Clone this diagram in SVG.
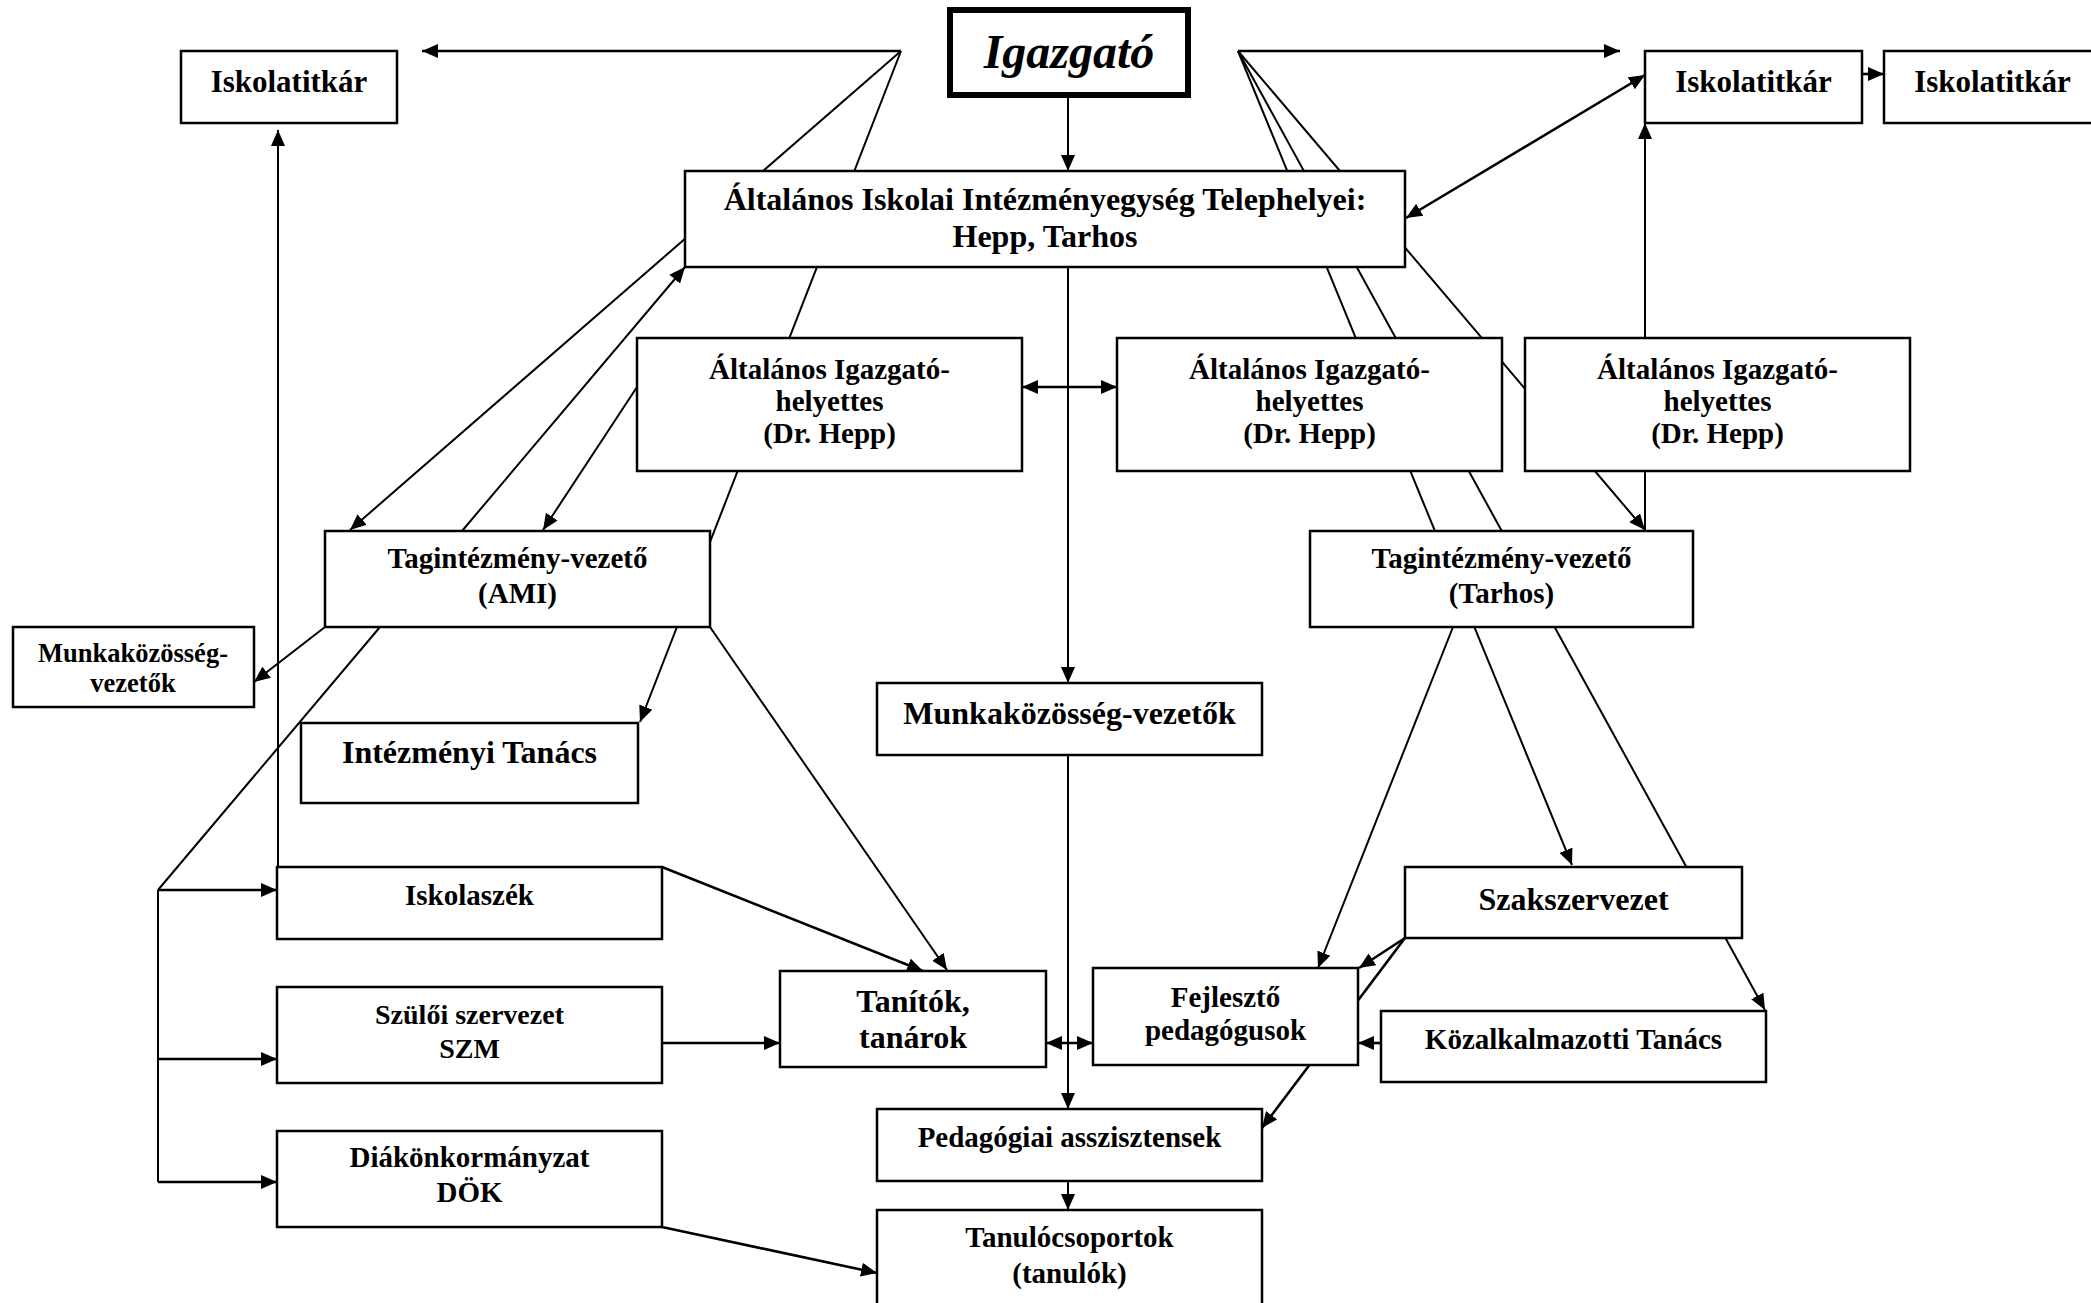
<svg xmlns="http://www.w3.org/2000/svg" width="2091" height="1303" viewBox="0 0 2091 1303">
<defs>
<style>
.box{fill:#fff;stroke:#000;stroke-width:2.5}
.t{font-family:"Liberation Serif","Times New Roman",serif;font-weight:bold;text-anchor:middle;fill:#000}
.s32{font-size:32px}
.s31{font-size:31px}
.s29{font-size:29px}
.s28{font-size:28px}
.s26{font-size:26.5px}
.c line,.c path{stroke:#000;stroke-width:2;fill:none}
.c .a{marker-end:url(#ah)}
.c .b{marker-start:url(#ahs);marker-end:url(#ah)}
.c .w{stroke-width:2.6}
</style>
<marker id="ah" markerUnits="userSpaceOnUse" markerWidth="16" markerHeight="14" viewBox="0 0 16 14" refX="16" refY="7" orient="auto"><path d="M0,0 L16,7 L0,14 z" fill="#000"/></marker>
<marker id="ahs" markerUnits="userSpaceOnUse" markerWidth="16" markerHeight="14" viewBox="0 0 16 14" refX="16" refY="7" orient="auto-start-reverse"><path d="M0,0 L16,7 L0,14 z" fill="#000"/></marker>
</defs>
<rect width="2091" height="1303" fill="#fff"/>
<g id="connectors" class="c">
<line class="a w" x1="901" y1="51" x2="422" y2="51"/>
<line class="a" x1="901" y1="51" x2="350" y2="530"/>
<line class="a" x1="901" y1="51" x2="640" y2="722"/>
<line class="a w" x1="1238" y1="51" x2="1620" y2="51"/>
<line class="a" x1="1238" y1="51" x2="1572" y2="865"/>
<line class="a" x1="1238" y1="51" x2="1765" y2="1010"/>
<line class="a" x1="1238" y1="51" x2="1645" y2="530"/>
<line class="a" x1="1068" y1="98" x2="1068" y2="171"/>
<line class="a" x1="1068" y1="267" x2="1068" y2="683"/>
<line class="a" x1="1068" y1="755" x2="1068" y2="1109"/>
<line class="a" x1="1068" y1="1181" x2="1068" y2="1210"/>
<line class="b w" x1="1022" y1="387" x2="1117" y2="387"/>
<line class="b w" x1="1406" y1="218" x2="1645" y2="75"/>
<line class="a w" x1="1862" y1="74" x2="1884" y2="74"/>
<line class="a" x1="1645" y1="531" x2="1645" y2="123"/>
<line class="a" x1="462" y1="531" x2="685" y2="267"/>
<line class="a" x1="637" y1="387" x2="543" y2="530"/>
<line class="a" x1="325" y1="627" x2="254" y2="682"/>
<line x1="380" y1="627" x2="158" y2="890"/>
<line class="a" x1="710" y1="627" x2="947" y2="970"/>
<line class="a w" x1="662" y1="867" x2="923" y2="971"/>
<line class="a w" x1="662" y1="1043" x2="780" y2="1043"/>
<line class="a w" x1="662" y1="1227" x2="877" y2="1273"/>
<line x1="158" y1="890" x2="158" y2="1182"/>
<line class="a w" x1="158" y1="890" x2="277" y2="890"/>
<line class="a w" x1="158" y1="1059" x2="277" y2="1059"/>
<line class="a w" x1="158" y1="1182" x2="277" y2="1182"/>
<line class="a" x1="278" y1="867" x2="278" y2="130"/>
<line class="b w" x1="1046" y1="1043" x2="1093" y2="1043"/>
<line class="a" x1="1453" y1="627" x2="1318" y2="968"/>
<line class="a w" x1="1405" y1="938" x2="1359" y2="968"/>
<line class="a w" x1="1405" y1="938" x2="1262" y2="1128"/>
<line class="a w" x1="1381" y1="1043" x2="1358" y2="1043"/>
</g>
<g id="igazgato"><rect x="950" y="10" width="238" height="85" fill="#fff" stroke="#000" stroke-width="6"/><text class="t" x="1069" y="68" font-size="48" font-style="italic">Igazgató</text></g>
<g id="iskolatitkar-1"><rect class="box" x="181" y="51" width="216" height="72"/><text class="t s31" x="289" y="92">Iskolatitkár</text></g>
<g id="iskolatitkar-2"><rect class="box" x="1645" y="51" width="217" height="72"/><text class="t s31" x="1753.5" y="92">Iskolatitkár</text></g>
<g id="iskolatitkar-3"><rect class="box" x="1884" y="51" width="217" height="72"/><text class="t s31" x="1992.5" y="92">Iskolatitkár</text></g>
<g id="altalanos-iskolai"><rect class="box" x="685" y="171" width="720" height="96"/><text class="t s32" x="1045" y="210">Általános Iskolai Intézményegység Telephelyei:</text><text class="t s32" x="1045" y="247">Hepp, Tarhos</text></g>
<g id="igh-1"><rect class="box" x="637" y="338" width="385" height="133"/><text class="t s29" x="829.5" y="379">Általános Igazgató-</text><text class="t s29" x="829.5" y="411">helyettes</text><text class="t s29" x="829.5" y="443">(Dr. Hepp)</text></g>
<g id="igh-2"><rect class="box" x="1117" y="338" width="385" height="133"/><text class="t s29" x="1309.5" y="379">Általános Igazgató-</text><text class="t s29" x="1309.5" y="411">helyettes</text><text class="t s29" x="1309.5" y="443">(Dr. Hepp)</text></g>
<g id="igh-3"><rect class="box" x="1525" y="338" width="385" height="133"/><text class="t s29" x="1717.5" y="379">Általános Igazgató-</text><text class="t s29" x="1717.5" y="411">helyettes</text><text class="t s29" x="1717.5" y="443">(Dr. Hepp)</text></g>
<g id="tag-ami"><rect class="box" x="325" y="531" width="385" height="96"/><text class="t s29" x="517.5" y="568">Tagintézmény-vezető</text><text class="t s29" x="517.5" y="603">(AMI)</text></g>
<g id="tag-tarhos"><rect class="box" x="1310" y="531" width="383" height="96"/><text class="t s29" x="1501.5" y="568">Tagintézmény-vezető</text><text class="t s29" x="1501.5" y="603">(Tarhos)</text></g>
<g id="munk-kicsi"><rect class="box" x="13" y="627" width="241" height="80"/><text class="t s26" x="133" y="662">Munkaközösség-</text><text class="t s26" x="133" y="692">vezetők</text></g>
<g id="intezmenyi-tanacs"><rect class="box" x="301" y="723" width="337" height="80"/><text class="t s32" x="469.5" y="763">Intézményi Tanács</text></g>
<g id="munk-vez"><rect class="box" x="877" y="683" width="385" height="72"/><text class="t s32" x="1069.5" y="724">Munkaközösség-vezetők</text></g>
<g id="iskolaszek"><rect class="box" x="277" y="867" width="385" height="72"/><text class="t s29" x="469.5" y="905">Iskolaszék</text></g>
<g id="szuloi"><rect class="box" x="277" y="987" width="385" height="96"/><text class="t s28" x="469.5" y="1024">Szülői szervezet</text><text class="t s28" x="469.5" y="1058">SZM</text></g>
<g id="diak"><rect class="box" x="277" y="1131" width="385" height="96"/><text class="t s29" x="469.5" y="1167">Diákönkormányzat</text><text class="t s29" x="469.5" y="1202">DÖK</text></g>
<g id="tanitok"><rect class="box" x="780" y="971" width="266" height="96"/><text class="t s32" x="913" y="1012">Tanítók,</text><text class="t s32" x="913" y="1048">tanárok</text></g>
<g id="fejleszto"><rect class="box" x="1093" y="968" width="265" height="97"/><text class="t s29" x="1225.5" y="1007">Fejlesztő</text><text class="t s29" x="1225.5" y="1040">pedagógusok</text></g>
<g id="szakszervezet"><rect class="box" x="1405" y="867" width="337" height="71"/><text class="t s32" x="1573.5" y="910">Szakszervezet</text></g>
<g id="kozalkalmazotti"><rect class="box" x="1381" y="1011" width="385" height="71"/><text class="t s29" x="1573.5" y="1049">Közalkalmazotti Tanács</text></g>
<g id="pedagogiai"><rect class="box" x="877" y="1109" width="385" height="72"/><text class="t s29" x="1069.5" y="1147">Pedagógiai asszisztensek</text></g>
<g id="tanulocsoportok"><rect class="box" x="877" y="1210" width="385" height="100"/><text class="t s29" x="1069.5" y="1247">Tanulócsoportok</text><text class="t s29" x="1069.5" y="1283">(tanulók)</text></g>
</svg>
